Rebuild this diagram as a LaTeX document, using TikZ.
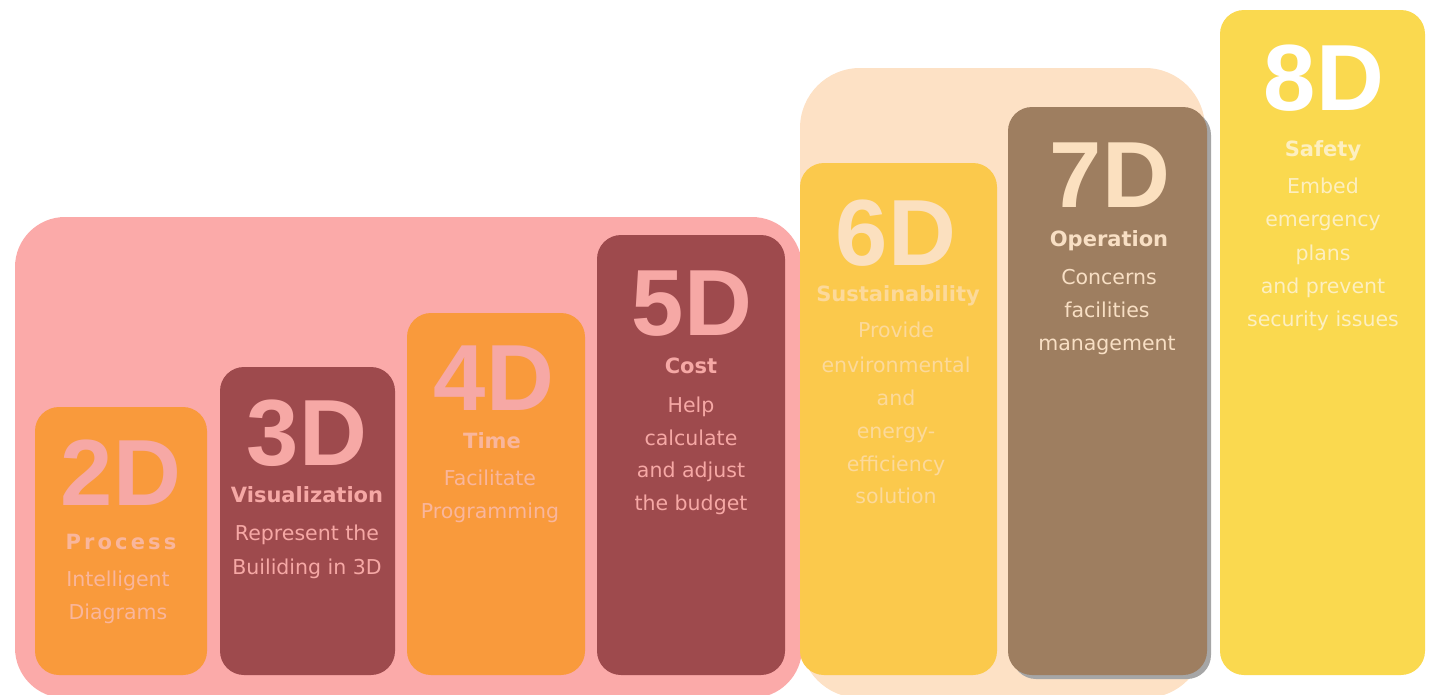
\documentclass[tikz,border=0pt]{standalone}
\usepackage{fontspec}
\setmainfont{DejaVu Sans}
\newfontfamily\numfont{Liberation Sans}
\definecolor{pinkbg}{HTML}{FBAAA9}
\definecolor{peachbg}{HTML}{FDE1C5}
\definecolor{orng}{HTML}{F99A3C}
\definecolor{maroon}{HTML}{9E4A4D}
\definecolor{yelsix}{HTML}{FBC94C}
\definecolor{brownseven}{HTML}{9E7E60}
\definecolor{yeleight}{HTML}{FAD94F}
\definecolor{pinktxt}{HTML}{F6A8A5}
\definecolor{fadetxt}{HTML}{F9B69C}
\definecolor{creamnum}{HTML}{FBE0BF}
\definecolor{creamfade}{HTML}{FCD99A}
\definecolor{creamtxt}{HTML}{F8DFC4}
\definecolor{eighttxt}{HTML}{FDEFC0}
\tikzset{
  grp/.style={rounded corners=50pt},
  col/.style={rounded corners=24pt},
  num/.style={font=\numfont\bfseries\fontsize{94}{94}\selectfont, anchor=base, inner sep=0pt},
  ttl/.style={font=\bfseries\fontsize{21}{21}\selectfont, anchor=base, inner sep=0pt},
  bdy/.style={font=\fontsize{20.5}{20.5}\selectfont, anchor=base, inner sep=0pt}
}
\begin{document}
\begin{tikzpicture}[x=1pt,y=-1pt]
\useasboundingbox (0,0) rectangle (1432,694);
% group backgrounds
\fill[pinkbg, grp] (15,217) rectangle (802,698);
\fill[peachbg, grp, rounded corners=60pt] (800,68) rectangle (1205,698);
% columns
\fill[orng, col] (35,407) rectangle (207,675);
\fill[maroon, col] (220,367) rectangle (395,675);
\fill[orng, col] (407,313) rectangle (585,675);
\fill[maroon, col] (597,235) rectangle (785,675);
\fill[yelsix, col] (800,163) rectangle (997,675);
\fill[gray!70, col] (1012,111) rectangle (1211,679);
\fill[brownseven, col] (1008,107) rectangle (1207,675);
\fill[yeleight, col] (1220,10) rectangle (1425,675);
% 2D
\node[num, text=pinktxt] (n2) at (121,505) {2D};
\node[ttl, text=fadetxt, font=\bfseries\fontsize{21}{21}\selectfont\addfontfeature{LetterSpace=15}] (t2) at (121,549) {Process};
\node[bdy, text=fadetxt] (b2a) at (118,586) {Intelligent};
\node[bdy, text=fadetxt] (b2b) at (118,619) {Diagrams};
% 3D
\node[num, text=pinktxt] (n3) at (307,465) {3D};
\node[ttl, text=pinktxt] (t3) at (307,502) {Visualization};
\node[bdy, text=pinktxt] (b3a) at (307,540) {Represent the};
\node[bdy, text=pinktxt] (b3b) at (307,574) {Builiding in 3D};
% 4D
\node[num, text=pinktxt] (n4) at (494,410) {4D};
\node[ttl, text=fadetxt] (t4) at (492,448) {Time};
\node[bdy, text=fadetxt] (b4a) at (490,485) {Facilitate};
\node[bdy, text=fadetxt] (b4b) at (490,518) {Programming};
% 5D
\node[num, text=pinktxt] (n5) at (692,335) {5D};
\node[ttl, text=pinktxt] (t5) at (691,373) {Cost};
\node[bdy, text=pinktxt] (b5a) at (691,412) {Help};
\node[bdy, text=pinktxt] (b5b) at (691,445) {calculate};
\node[bdy, text=pinktxt] (b5c) at (691,477) {and adjust};
\node[bdy, text=pinktxt] (b5d) at (691,510) {the budget};
% 6D
\node[num, text=creamnum] (n6) at (896,265) {6D};
\node[ttl, text=creamfade] (t6) at (898,301) {Sustainability};
\node[bdy, text=creamfade] (b6a) at (896,337) {Provide};
\node[bdy, text=creamfade] (b6b) at (896,372) {environmental};
\node[bdy, text=creamfade] (b6c) at (896,405) {and};
\node[bdy, text=creamfade] (b6d) at (896,438) {energy-};
\node[bdy, text=creamfade] (b6e) at (896,471) {efficiency};
\node[bdy, text=creamfade] (b6f) at (896,503) {solution};
% 7D
\node[num, text=creamnum] (n7) at (1110,207) {7D};
\node[ttl, text=creamtxt] (t7) at (1109,246) {Operation};
\node[bdy, text=creamtxt] (b7a) at (1109,284) {Concerns};
\node[bdy, text=creamtxt] (b7b) at (1107,317) {facilities};
\node[bdy, text=creamtxt] (b7c) at (1107,350) {management};
% 8D
\node[num, text=white] (n8) at (1324,110) {8D};
\node[ttl, text=eighttxt] (t8) at (1323,156) {Safety};
\node[bdy, text=eighttxt] (b8a) at (1323,193) {Embed};
\node[bdy, text=eighttxt] (b8b) at (1323,226) {emergency};
\node[bdy, text=eighttxt] (b8c) at (1323,260) {plans};
\node[bdy, text=eighttxt] (b8d) at (1323,293) {and prevent};
\node[bdy, text=eighttxt] (b8e) at (1323,326) {security issues};
\end{tikzpicture}
\end{document}
